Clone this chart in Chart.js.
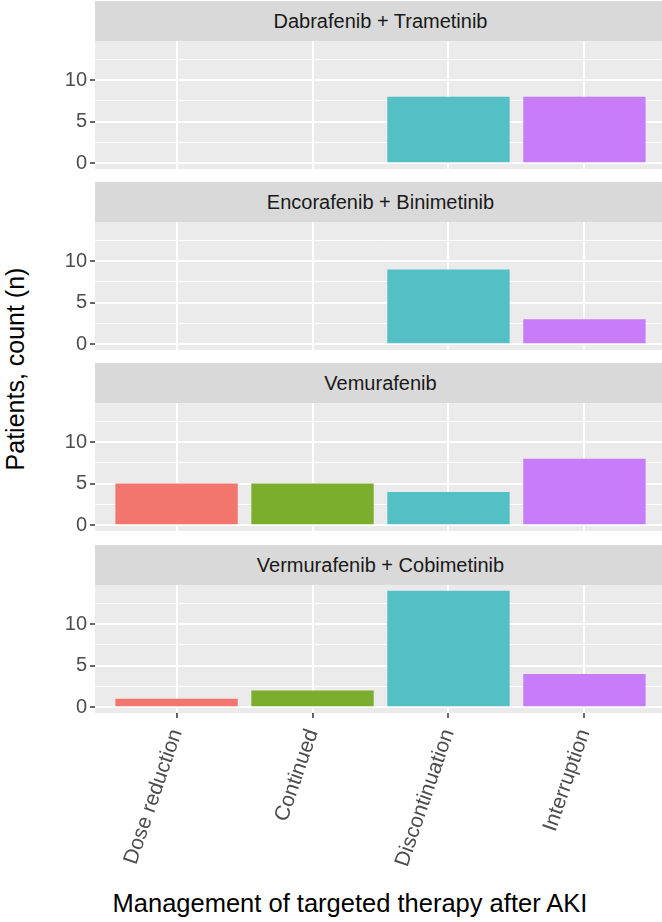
<!DOCTYPE html>
<html>
<head>
<meta charset="utf-8">
<script src="https://cdn.jsdelivr.net/npm/chart.js@4.4.0/dist/chart.umd.min.js"></script>
<style>
  html, body { margin:0; padding:0; background:#fff; width:662px; height:922px; overflow:hidden; }
  body { position:relative; font-family:"Liberation Sans", Arial, sans-serif; }
  .strip { position:absolute; left:95px; width:571px; height:40px; background:#d9d9d9; color:#1a1a1a;
           font-size:20px; line-height:40px; text-align:center; }
  canvas { position:absolute; left:0; }
  #ytitle { position:absolute; left:-135px; top:354px; width:300px; height:30px; line-height:30px;
            text-align:center; font-size:25px; color:#000; transform:rotate(-90deg); }
  #xtitle { position:absolute; left:0; width:700px; top:888px; height:30px; line-height:30px;
            text-align:center; font-size:25.5px; color:#000; }
</style>
</head>
<body>
<div id="ytitle">Patients, count (n)</div>
<div id="xtitle">Management of targeted therapy after AKI</div>
<script>
// data
var categories = ["Dose reduction", "Continued", "Discontinuation", "Interruption"];
var facetNames = ["Dabrafenib + Trametinib", "Encorafenib + Binimetinib", "Vemurafenib", "Vermurafenib + Cobimetinib"];
var dabrafenibTrametinib = [0, 0, 8, 8];
var encorafenibBinimetinib = [0, 0, 9, 3];
var vemurafenib = [5, 5, 4, 8];
var vemurafenibCobimetinib = [1, 2, 14, 4];
var yTickLabels = [0, 5, 10];

var facetValues = [dabrafenibTrametinib, encorafenibBinimetinib, vemurafenib, vemurafenibCobimetinib];
var barColors = ["#F2766D", "#7CAE2D", "#54BFC5", "#C77CF9"];
var plotTops = [41, 222, 403, 585];
var plotH = 128;
var axisFont = {family: "Liberation Sans, Arial, sans-serif", size: 20};

var panelBg = {
  id: "panelBg",
  beforeDraw: function(chart) {
    var a = chart.chartArea, c = chart.ctx;
    c.save();
    c.fillStyle = "#ebebeb";
    c.fillRect(a.left, a.top, a.right - a.left, a.bottom - a.top);
    c.restore();
  }
};

facetValues.forEach(function(vals, f) {
  var last = f === facetValues.length - 1;

  var strip = document.createElement("div");
  strip.className = "strip";
  strip.style.top = (plotTops[f] - 40) + "px";
  strip.textContent = facetNames[f];
  document.body.appendChild(strip);

  var cv = document.createElement("canvas");
  cv.width = 666;
  cv.height = last ? plotH + 170 : plotH;
  cv.style.top = plotTops[f] + "px";
  document.body.appendChild(cv);

  new Chart(cv, {
    type: "bar",
    data: {
      datasets: [{
        data: vals.map(function(v, i) { return {x: i + 1, y: v}; }),
        backgroundColor: barColors,
        borderWidth: 0,
        categoryPercentage: 1,
        barPercentage: 0.9
      }]
    },
    plugins: [panelBg],
    options: {
      responsive: false,
      animation: false,
      layout: {padding: 0},
      plugins: {legend: {display: false}, tooltip: {enabled: false}},
      scales: {
        x: {
          type: "linear",
          min: 0.4,
          max: 4.6,
          offset: false,
          border: {display: false},
          grid: {
            offset: false,
            color: "#ffffff",
            lineWidth: 2,
            drawTicks: last,
            tickLength: 5,
            tickColor: "#333333",
            tickWidth: 1.5
          },
          ticks: {
            display: last,
            stepSize: 1,
            includeBounds: false,
            autoSkip: false,
            minRotation: 71,
            maxRotation: 71,
            padding: 8,
            color: "#4d4d4d",
            font: {family: axisFont.family, size: 21},
            callback: function(v) { return categories[v - 1] || ""; }
          },
          afterFit: function(s) {
            s.height = last ? 170 : 0;
            s.paddingLeft = 0;
            s.paddingRight = 0;
          }
        },
        y: {
          min: -0.7,
          max: 14.7,
          border: {display: false},
          grid: {
            color: "#ffffff",
            lineWidth: function(ctx) { return yTickLabels.indexOf(ctx.tick.value) >= 0 ? 2 : 1; },
            tickLength: 5,
            tickWidth: 1.5,
            tickColor: function(ctx) { return yTickLabels.indexOf(ctx.tick.value) >= 0 ? "#333333" : "rgba(0,0,0,0)"; }
          },
          ticks: {
            stepSize: 2.5,
            includeBounds: false,
            autoSkip: false,
            padding: 3,
            color: "#4d4d4d",
            font: axisFont,
            callback: function(v) { return yTickLabels.indexOf(v) >= 0 ? String(v) : ""; }
          },
          afterFit: function(s) {
            s.width = 95;
            s.paddingTop = 0;
            s.paddingBottom = 0;
          }
        }
      }
    }
  });
});
</script>
</body>
</html>
